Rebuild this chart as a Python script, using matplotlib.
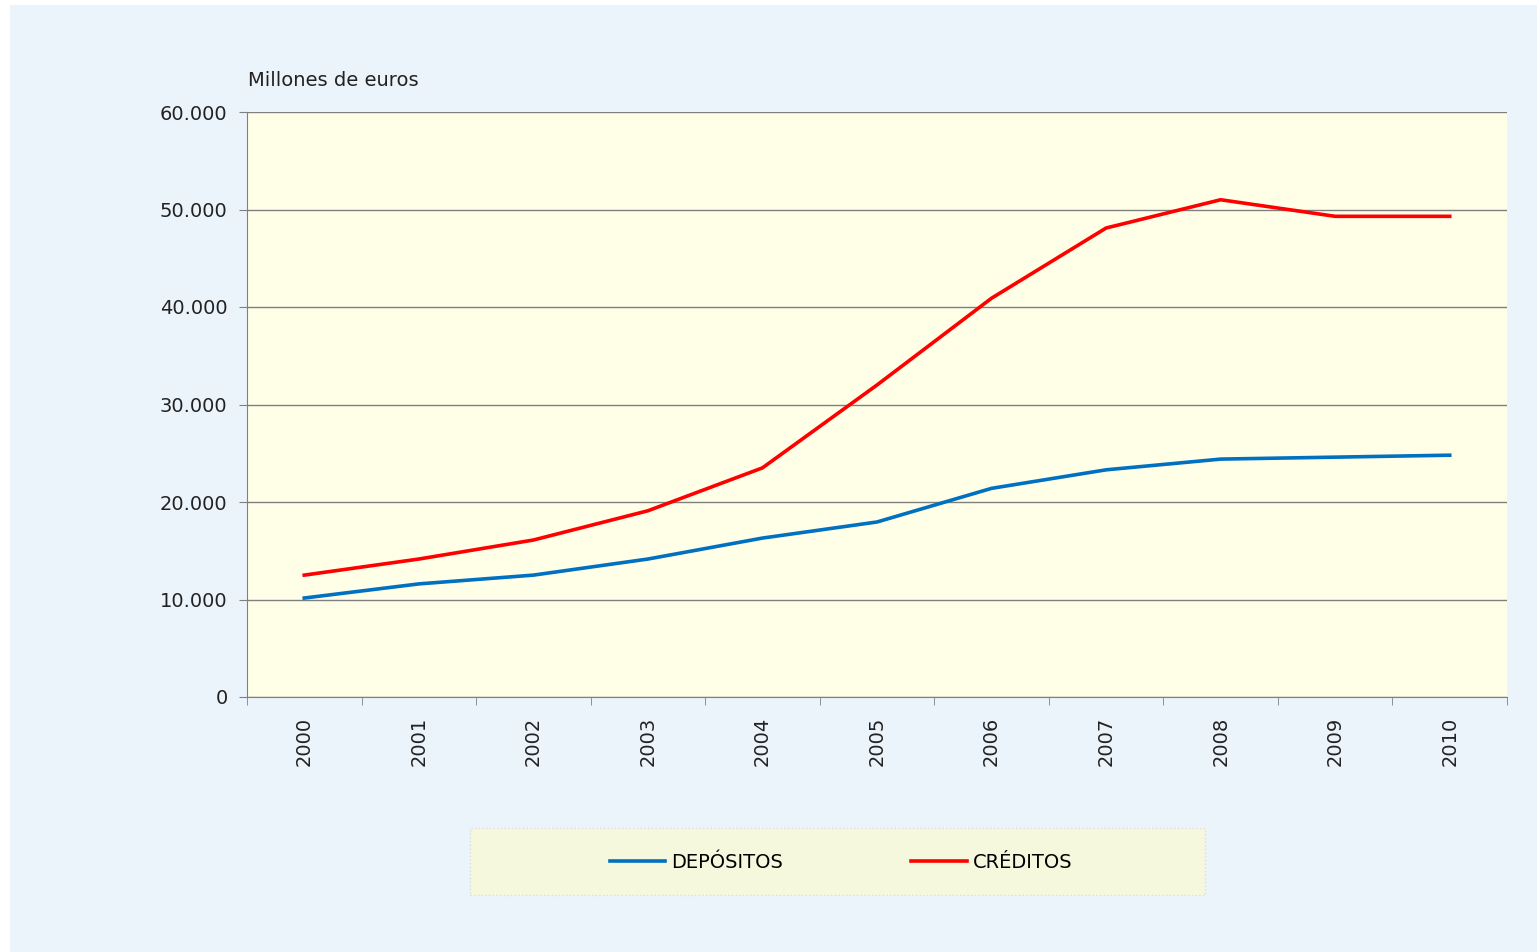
import matplotlib
matplotlib.use('Agg')
import matplotlib.pyplot as plt
from matplotlib.patches import Rectangle
from matplotlib.ticker import FuncFormatter, FixedLocator

years = ['2000', '2001', '2002', '2003', '2004', '2005',
         '2006', '2007', '2008', '2009', '2010']
depositos = [10150, 11600, 12500, 14150, 16300, 17950,
             21400, 23300, 24400, 24600, 24800]
creditos = [12500, 14150, 16100, 19100, 23500, 32000,
            40900, 48100, 51000, 49300, 49300]

plt.rcParams['font.family'] = ['DejaVu Sans']

fig = plt.figure(figsize=(15.37, 9.52), dpi=100, facecolor='white')
# light blue chart area background
fig.patches.append(Rectangle((10 / 1537, 0), 1 - 10 / 1537, 1 - 5 / 952,
                             transform=fig.transFigure, facecolor='#ECF4FB',
                             edgecolor='none', zorder=-10))

ax = fig.add_axes([247 / 1537, 255 / 952, 1260 / 1537, 585 / 952])
ax.set_zorder(2)
ax.set_facecolor('#FFFFE8')

x = range(len(years))
ax.plot(x, depositos, color='#0070C0', lw=2.6, label='DEPÓSITOS', zorder=3)
ax.plot(x, creditos, color='#FF0000', lw=2.6, label='CRÉDITOS', zorder=3)

ax.set_xlim(-0.5, len(years) - 0.5)
ax.set_ylim(0, 60000)
ax.set_yticks(range(0, 60001, 10000))
ax.yaxis.set_major_formatter(FuncFormatter(lambda v, p: f'{int(v):,}'.replace(',', '.')))
ax.grid(axis='y', color='#7F7F7F', lw=1)
ax.set_axisbelow(True)

ax.set_xticks(list(x))
ax.set_xticklabels(years, rotation=90)
ax.xaxis.set_minor_locator(FixedLocator([i - 0.5 for i in range(len(years) + 1)]))
ax.tick_params(axis='x', which='major', length=0, pad=14, labelsize=14,
               labelcolor='#222222')
ax.tick_params(axis='x', which='minor', length=6, color='#7F7F7F')
ax.tick_params(axis='y', length=6, color='#7F7F7F', labelsize=14, pad=8,
               labelcolor='#222222')

for s in ['top', 'right']:
    ax.spines[s].set_visible(False)
for s in ['left', 'bottom']:
    ax.spines[s].set_color('#7F7F7F')

fig.text(248 / 1537, 1 - 80 / 952, 'Millones de euros', fontsize=14,
         va='center', ha='left', color='#222222')

# legend box
fig.patches.append(Rectangle((470 / 1537, 57 / 952), 735 / 1537, 67 / 952,
                             transform=fig.transFigure, facecolor='#F5F8DC',
                             edgecolor='#DDDDDD', ls=':', lw=1, zorder=1))
fig.legend(loc='center', bbox_to_anchor=(841 / 1537, 90 / 952), ncol=2,
           frameon=False, fontsize=14, handlelength=2.85, handletextpad=0.3,
           columnspacing=6.6)

fig.savefig('out.png', dpi=100, facecolor=fig.get_facecolor())
